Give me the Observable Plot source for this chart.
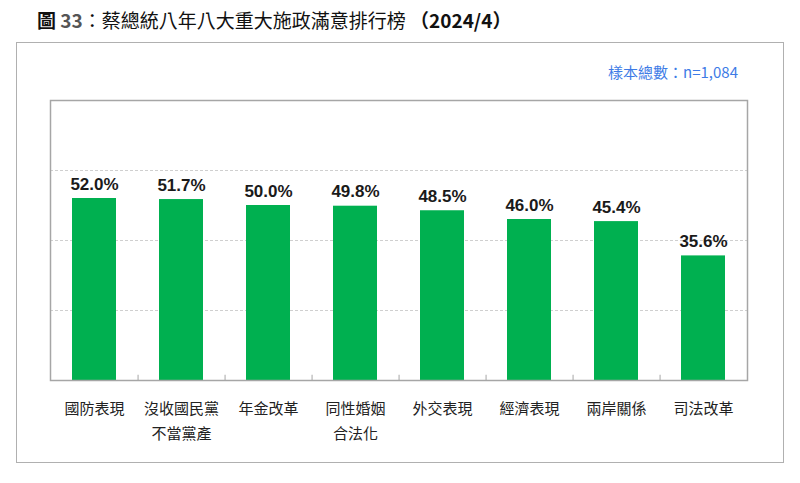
<!DOCTYPE html>
<html><head><meta charset="utf-8">
<script src="https://cdn.jsdelivr.net/npm/d3@7"></script>
<script src="https://cdn.jsdelivr.net/npm/@observablehq/plot@0.6"></script>
<style>
body{margin:0;background:#fff;}
#wrap{position:relative;width:800px;height:483px;overflow:hidden;font-family:"Noto Sans CJK TC","Noto Sans",sans-serif;}
#title{position:absolute;left:37px;top:6px;font-size:19px;line-height:28px;color:#111;white-space:nowrap;}
#title b{font-weight:bold;}
#title .n{color:#555;}
#box{position:absolute;left:16px;top:42px;width:768px;height:421px;border:1.5px solid #b0b0b0;box-sizing:border-box;}
#note{position:absolute;right:62px;top:61px;font-size:15px;color:#3d7be6;white-space:nowrap;}
#chart{position:absolute;left:0;top:0;}
</style>
</head><body>
<div id="wrap">
  <div id="box"></div>
  <div id="title"><b>圖 <span class="n">33</span></b>：蔡總統八年八大重大施政滿意排行榜 <b>（2024/4）</b></div>
  <div id="note">樣本總數：n=1,084</div>
  <div id="chart"></div>
</div>
<script>
const categories = ["國防表現","沒收國民黨\n不當黨產","年金改革","同性婚姻\n合法化","外交表現","經濟表現","兩岸關係","司法改革"];
const values = [52.0,51.7,50.0,49.8,48.5,46.0,45.4,35.6];
const gridTicks = [20,40,60];

const data = categories.map((c,i)=>({cat:c,value:values[i]}));
const W = 800, H = 483, mL = 50, mR = 53, mT = 100, mB = 103;
const step = (W - mL - mR) / categories.length;

const chart = Plot.plot({
  width: W, height: H,
  marginLeft: mL, marginRight: mR, marginTop: mT, marginBottom: mB,
  style: {background: "transparent", fontFamily: "'Noto Sans CJK TC', sans-serif", overflow: "visible"},
  x: {domain: categories, paddingInner: 0.5, paddingOuter: 0.25},
  y: {domain: [0, 80], axis: null},
  marks: [
    Plot.gridY(gridTicks, {stroke: "#cfcfcf", strokeOpacity: 1, strokeDasharray: "3,2"}),
    Plot.barY(data, {x: "cat", y: "value", fill: "#00B050"}),
    Plot.frame({stroke: "#a6a6a6", strokeWidth: 1.5}),
    Plot.ruleX(categories.slice(0, -1), {y1: 0, y2: 1.5, dx: step / 2, stroke: "#a6a6a6"}),
    Plot.text(data, {x: "cat", y: "value", text: d => d.value.toFixed(1) + "%", lineAnchor: "bottom", dy: -9,
      fontWeight: "bold", fontSize: 17, fontFamily: "'Liberation Sans', Arial, sans-serif", fill: "#1a1a1a"}),
    Plot.axisX({tickSize: 0, tickPadding: 16, fontSize: 15, lineHeight: 1.667, fill: "#222",
      fontFamily: "'Noto Sans CJK TC', sans-serif", label: null})
  ]
});
document.getElementById("chart").appendChild(chart);
</script>
</body></html>
